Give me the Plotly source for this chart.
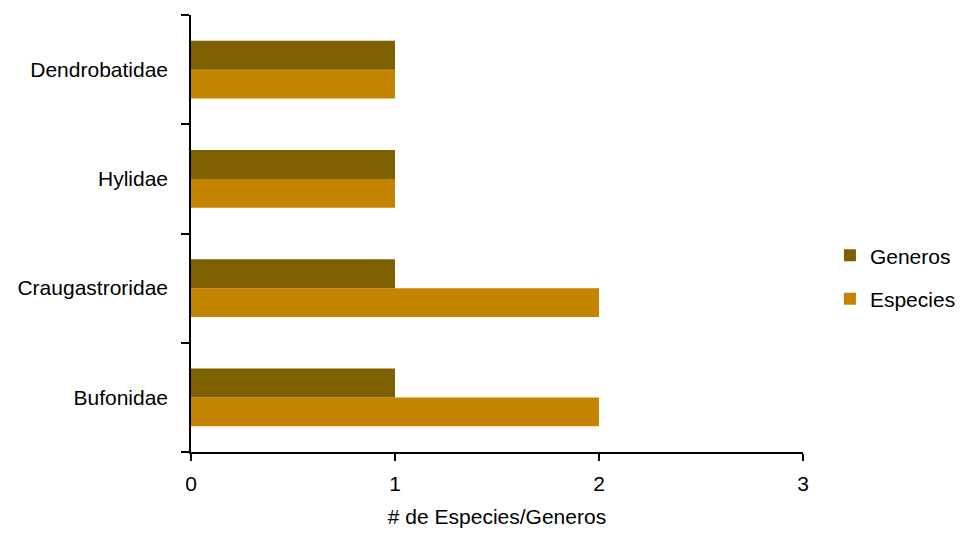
import plotly.graph_objects as go

categories = ["Bufonidae", "Craugastroridae", "Hylidae", "Dendrobatidae"]
generos = [1, 1, 1, 1]
especies = [2, 2, 1, 1]
x_ticks = [0, 1, 2, 3]

FONT = "Liberation Sans, Arial, sans-serif"

fig = go.Figure()
fig.add_trace(go.Bar(y=categories, x=especies, name="Especies", orientation="h",
                     marker=dict(color="#C48400", line=dict(width=0)),
                     legendgroup="e", legendrank=2))
fig.add_trace(go.Bar(y=categories, x=generos, name="Generos", orientation="h",
                     marker=dict(color="#7F6000", line=dict(width=0)),
                     legendgroup="g", legendrank=1))

# page body has an 8px margin, so the figure is sized/offset to compensate
fig.update_layout(
    width=955, height=528,
    margin=dict(l=183, r=160, t=7, b=84, autoexpand=False),
    paper_bgcolor="white", plot_bgcolor="white",
    barmode="group", bargap=0.47, bargroupgap=0,
    font=dict(family=FONT, size=21, color="black"),
    legend=dict(x=1.044, xanchor="left", y=0.40, yanchor="middle",
                traceorder="grouped", tracegroupgap=13, borderwidth=0,
                font=dict(family=FONT, size=21)),
    xaxis=dict(range=[0, 3], tickvals=x_ticks, ticks="outside", ticklen=7,
               tickwidth=1.5, tickcolor="black", showline=True, linecolor="black",
               linewidth=1.5, showgrid=False, zeroline=False, automargin=False,
               ticklabelstandoff=5,
               title=dict(text="# de Especies/Generos", standoff=15,
                          font=dict(family=FONT, size=21))),
    yaxis=dict(range=[-0.5, 3.5], ticks="outside", tickson="boundaries", ticklen=8,
               tickwidth=1.5, tickcolor="black", showline=True, linecolor="black",
               linewidth=1.5, showgrid=False, zeroline=False, automargin=False,
               ticklabelstandoff=17),
)

fig.write_html("out.html")
